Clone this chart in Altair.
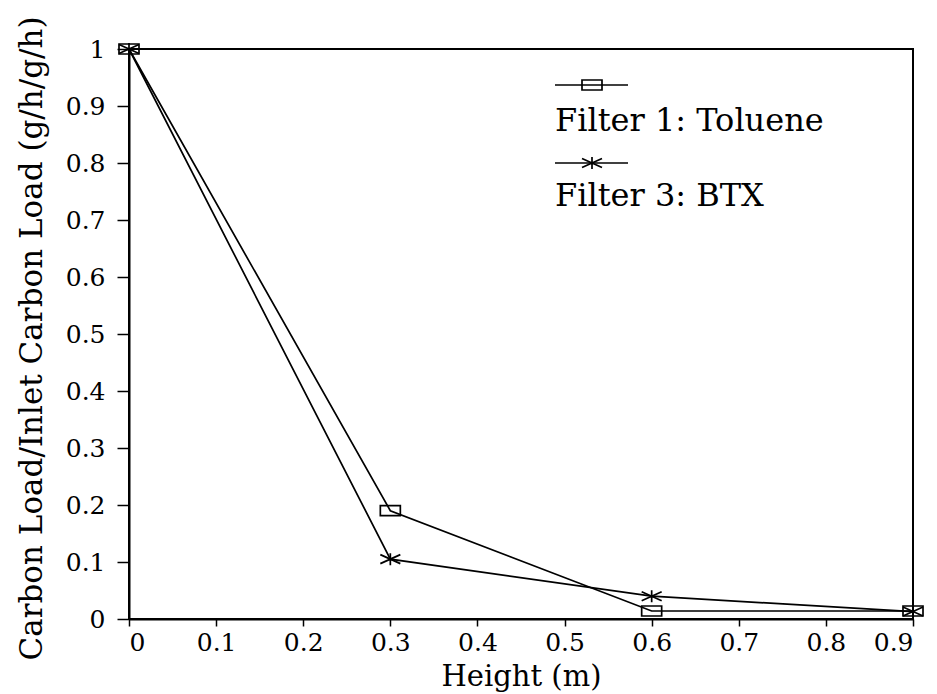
import altair as alt
import pandas as pd

# Measured carbon load ratio along the filter bed
heights = [0.0, 0.3, 0.6, 0.9]
toluene = [1.0, 0.19, 0.014, 0.014]
btx = [1.0, 0.105, 0.04, 0.013]

x_ticks = [0, 0.1, 0.2, 0.3, 0.4, 0.5, 0.6, 0.7, 0.8, 0.9]
y_ticks = [0, 0.1, 0.2, 0.3, 0.4, 0.5, 0.6, 0.7, 0.8, 0.9, 1]

series_names = ["Filter 1: Toluene", "Filter 3: BTX"]

FONT = "DejaVu Serif"
W, H = 784, 570

# Open rectangle and six-armed asterisk markers
RECT = "M-1,-0.5L1,-0.5L1,0.5L-1,0.5Z"
STAR = "M-1,-0.45L1,0.45M-1,0.45L1,-0.45M0,-0.6L0,0.6"

tol_df = pd.DataFrame({"h": heights, "v": toluene})
btx_df = pd.DataFrame({"h": heights, "v": btx})

x_enc = alt.X(
    "h:Q",
    scale=alt.Scale(domain=[0, 0.9], nice=False, zero=False),
    axis=alt.Axis(
        title="Height (m)",
        values=x_ticks,
        format="~g",
        titleY=66,
        titleBaseline="alphabetic",
        titleFontSize=29,
    ),
)
y_enc = alt.Y(
    "v:Q",
    scale=alt.Scale(domain=[0, 1], nice=False),
    axis=alt.Axis(
        title="Carbon Load/Inlet Carbon Load (g/h/g/h)",
        values=y_ticks,
        format="~g",
        titleX=-88,
        titleY=H / 2 + 4,
        titleAngle=-90,
        titleBaseline="alphabetic",
        titleAlign="center",
        titleFontSize=31,
    ),
)


def series(df, shape):
    line = alt.Chart(df).mark_line(color="black", strokeWidth=1.7).encode(x=x_enc, y=y_enc)
    pts = alt.Chart(df).mark_point(
        shape=shape, size=400, filled=False, color="black", strokeWidth=1.7, opacity=1
    ).encode(x=x_enc, y=y_enc)
    return line + pts


# Legend block: sample line with marker above each label
leg = pd.DataFrame({
    "name": series_names,
    "ly": [36, 114],
    "ty": [82, 157],
})
leg_line = alt.Chart(leg).mark_rule(color="black", strokeWidth=1.7).encode(
    x=alt.value(426), x2=alt.value(499), y=alt.Y("ly:Q", scale=None)
)
leg_rect = alt.Chart(leg.iloc[[0]]).mark_point(
    shape=RECT, size=400, filled=False, color="black", strokeWidth=1.7, opacity=1
).encode(x=alt.value(463), y=alt.Y("ly:Q", scale=None))
leg_star = alt.Chart(leg.iloc[[1]]).mark_point(
    shape=STAR, size=400, filled=False, color="black", strokeWidth=1.7, opacity=1
).encode(x=alt.value(463), y=alt.Y("ly:Q", scale=None))
leg_text = alt.Chart(leg).mark_text(
    align="left", baseline="alphabetic", font=FONT, fontSize=32, color="black"
).encode(x=alt.value(426), y=alt.Y("ty:Q", scale=None), text="name:N")

chart = (
    alt.layer(
        series(tol_df, RECT),
        series(btx_df, STAR),
        leg_line, leg_rect, leg_star, leg_text,
    )
    .properties(
        width=W,
        height=H,
        autosize=alt.AutoSizeParams(type="none"),
        padding={"left": 129, "top": 49, "right": 24, "bottom": 75},
        background="white",
    )
    .configure_view(stroke="black", strokeWidth=2)
    .configure_axis(
        grid=False,
        domainColor="black",
        domainWidth=2,
        tickColor="black",
        tickWidth=1.5,
        labelFont=FONT,
        labelFontSize=25,
        labelColor="black",
        titleFont=FONT,
        titleFontWeight="normal",
        titleColor="black",
    )
    .configure_axisX(tickSize=7, labelPadding=4)
    .configure_axisY(tickSize=12, labelPadding=12)
)

chart.save("out.html", embed_options={"renderer": "svg", "actions": False})
